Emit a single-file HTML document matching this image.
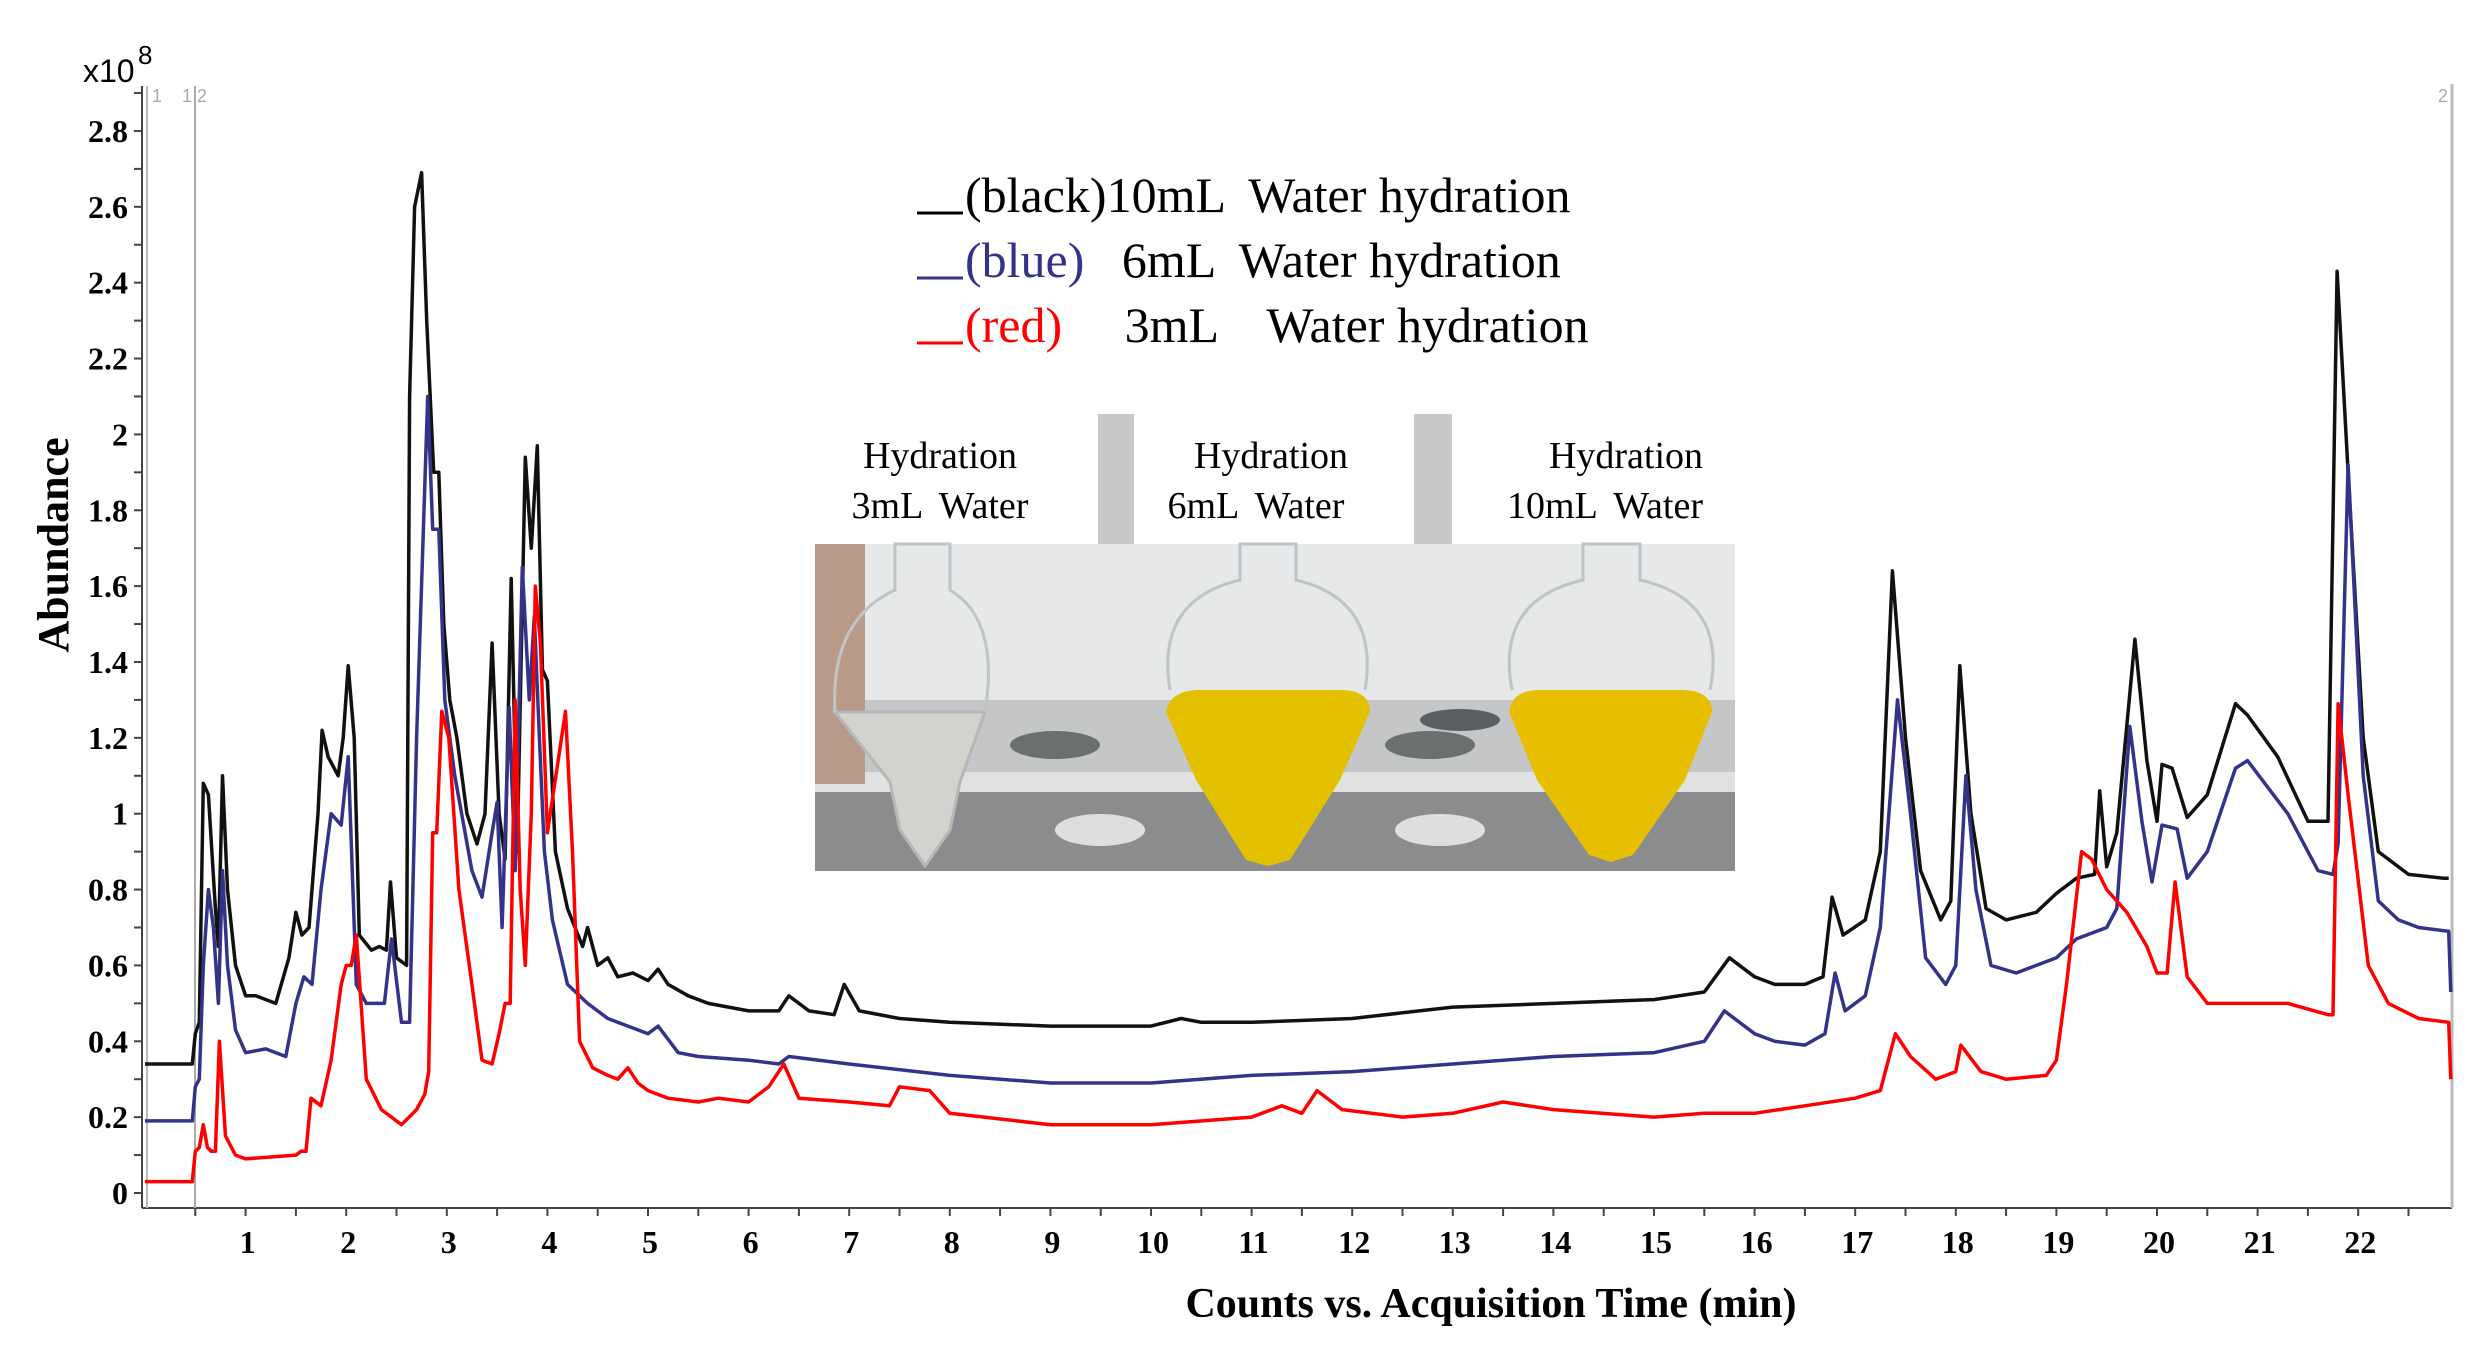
<!DOCTYPE html>
<html><head><meta charset="utf-8">
<style>
html,body{margin:0;padding:0;background:#fff;}
svg{display:block;font-family:"Liberation Serif",serif;}
</style></head>
<body>
<svg id="chart" width="2488" height="1353" viewBox="0 0 2488 1353" xmlns="http://www.w3.org/2000/svg">
<rect width="2488" height="1353" fill="#fff"/>
<g id="axes"></g>
<g id="photo">
  <rect x="815" y="544" width="920" height="327" fill="#e6e8ea"/>
  <rect x="815" y="700" width="920" height="171" fill="#c4c6c7"/>
  <rect x="815" y="790" width="920" height="81" fill="#8a8c8d"/>
  <rect x="815" y="772" width="920" height="20" fill="#e0e2e2"/>
  <ellipse cx="1055" cy="745" rx="45" ry="14" fill="#6c6f70"/>
  <ellipse cx="1430" cy="745" rx="45" ry="14" fill="#6c6f70"/>
  <ellipse cx="1460" cy="720" rx="40" ry="11" fill="#5b5e60"/>
  <ellipse cx="1100" cy="830" rx="45" ry="16" fill="#dcdedf"/>
  <ellipse cx="1440" cy="830" rx="45" ry="16" fill="#dcdedf"/>
  <rect x="815" y="544" width="50" height="240" fill="#b89a88"/>
  <path d="M835 712 L985 712 L960 782 L950 830 L925 866 L900 830 L890 782 Z" fill="#d2d3cf" stroke="#b5b8b6" stroke-width="3"/>
  <path d="M835 712 Q830 620 895 590 L895 544 L950 544 L950 590 Q1000 620 985 712" fill="none" stroke="#c0c4c5" stroke-width="3"/>
  <path d="M1166 712 Q1170 690 1200 690 L1340 690 Q1370 690 1370 712 L1340 780 L1290 860 L1268 866 L1246 860 L1196 780 Z" fill="#e3c000"/>
  <path d="M1170 690 Q1155 600 1240 580 L1240 544 L1296 544 L1296 580 Q1380 600 1365 690" fill="none" stroke="#c0c4c5" stroke-width="3"/>
  <path d="M1509 712 Q1512 690 1540 690 L1680 690 Q1712 690 1712 712 L1685 780 L1633 855 L1611 862 L1589 855 L1537 780 Z" fill="#e8bf00"/>
  <path d="M1512 690 Q1495 600 1583 580 L1583 544 L1640 544 L1640 580 Q1728 600 1710 690" fill="none" stroke="#c0c4c5" stroke-width="3"/>
  <rect x="1098" y="414" width="36" height="130" fill="#c8c9ca"/>
  <rect x="1414" y="414" width="38" height="130" fill="#c8c9ca"/>
  <text x="940" y="468" font-size="38" text-anchor="middle">Hydration</text>
  <text x="940" y="518" font-size="38" text-anchor="middle" word-spacing="8">3mL Water</text>
  <text x="1271" y="468" font-size="38" text-anchor="middle">Hydration</text>
  <text x="1256" y="518" font-size="38" text-anchor="middle" word-spacing="8">6mL Water</text>
  <text x="1703" y="468" font-size="38" text-anchor="end">Hydration</text>
  <text x="1703" y="518" font-size="38" text-anchor="end" word-spacing="8">10mL Water</text>
</g>
<g id="series"></g>
<g id="legend">
  <line x1="917" y1="213" x2="963" y2="213" stroke="#000" stroke-width="3"/>
  <text x="965" y="212" font-size="50" fill="#000" xml:space="preserve">(black)10mL  Water hydration</text>
  <line x1="917" y1="278" x2="963" y2="278" stroke="#33338a" stroke-width="3"/>
  <text x="965" y="277" font-size="50" xml:space="preserve"><tspan fill="#33338a">(blue)</tspan>   6mL  Water hydration</text>
  <line x1="917" y1="343" x2="963" y2="343" stroke="#f00" stroke-width="3"/>
  <text x="965" y="342" font-size="50" xml:space="preserve"><tspan fill="#f00">(red)</tspan>     3mL    Water hydration</text>
</g>
<text x="83" y="82" font-size="32" font-family="Liberation Sans, sans-serif">x10</text>
<text x="138" y="64" font-size="26" font-family="Liberation Sans, sans-serif">8</text>
<text transform="translate(68,545) rotate(-90)" font-size="44" font-weight="bold" text-anchor="middle">Abundance</text>
<text x="1491" y="1317" font-size="42" font-weight="bold" text-anchor="middle">Counts vs. Acquisition Time (min)</text>
</svg>
<script>
const xTicks=[1,2,3,4,5,6,7,8,9,10,11,12,13,14,15,16,17,18,19,20,21,22];
const yTicks=[0,0.2,0.4,0.6,0.8,1,1.2,1.4,1.6,1.8,2,2.2,2.4,2.6,2.8];
const yTickLabels=["0","0.2","0.4","0.6","0.8","1","1.2","1.4","1.6","1.8","2","2.2","2.4","2.6","2.8"];
const blackPoints=[[0,.34],[.47,.34],[.5,.42],[.54,.45],[.58,1.08],[.63,1.05],[.7,.75],[.73,.65],[.77,1.1],[.82,.8],[.9,.6],[1.0,.52],[1.1,.52],[1.3,.5],[1.43,.62],[1.5,.74],[1.56,.68],[1.63,.7],[1.72,1.0],[1.76,1.22],[1.82,1.15],[1.92,1.1],[1.97,1.2],[2.02,1.39],[2.08,1.2],[2.13,.68],[2.25,.64],[2.33,.65],[2.4,.64],[2.44,.82],[2.5,.62],[2.6,.6],[2.63,2.1],[2.68,2.6],[2.75,2.69],[2.8,2.3],[2.87,1.9],[2.92,1.9],[2.97,1.5],[3.03,1.3],[3.1,1.2],[3.2,1.0],[3.3,.92],[3.38,1.0],[3.45,1.45],[3.52,1.0],[3.58,.88],[3.64,1.62],[3.7,.9],[3.78,1.94],[3.84,1.7],[3.9,1.97],[3.95,1.38],[4.0,1.35],[4.08,.9],[4.2,.75],[4.35,.65],[4.4,.7],[4.5,.6],[4.6,.62],[4.7,.57],[4.85,.58],[5.0,.56],[5.1,.59],[5.2,.55],[5.4,.52],[5.6,.5],[6.0,.48],[6.3,.48],[6.4,.52],[6.6,.48],[6.85,.47],[6.95,.55],[7.1,.48],[7.5,.46],[8,.45],[9,.44],[10,.44],[10.3,.46],[10.5,.45],[11,.45],[12,.46],[13,.49],[14,.5],[15,.51],[15.5,.53],[15.75,.62],[16.0,.57],[16.2,.55],[16.5,.55],[16.68,.57],[16.77,.78],[16.88,.68],[17.1,.72],[17.25,.9],[17.37,1.64],[17.5,1.2],[17.65,.85],[17.85,.72],[17.95,.77],[18.04,1.39],[18.15,1.0],[18.3,.75],[18.5,.72],[18.8,.74],[19.0,.79],[19.2,.83],[19.38,.84],[19.43,1.06],[19.5,.86],[19.6,.95],[19.78,1.46],[19.9,1.14],[20.0,.98],[20.05,1.13],[20.15,1.12],[20.3,.99],[20.5,1.05],[20.78,1.29],[20.9,1.26],[21.2,1.15],[21.5,.98],[21.7,.98],[21.79,2.43],[21.9,1.9],[22.05,1.2],[22.2,.9],[22.5,.84],[22.85,.83],[22.9,.83]];
const bluePoints=[[0,.19],[.47,.19],[.5,.28],[.54,.3],[.58,.6],[.63,.8],[.68,.7],[.73,.5],[.77,.85],[.82,.6],[.9,.43],[1.0,.37],[1.2,.38],[1.4,.36],[1.5,.5],[1.58,.57],[1.66,.55],[1.75,.8],[1.85,1.0],[1.95,.97],[2.02,1.15],[2.1,.55],[2.2,.5],[2.38,.5],[2.45,.67],[2.55,.45],[2.63,.45],[2.7,1.2],[2.81,2.1],[2.86,1.75],[2.92,1.75],[2.98,1.3],[3.08,1.1],[3.25,.85],[3.35,.78],[3.45,.95],[3.5,1.03],[3.55,.7],[3.62,1.28],[3.68,.85],[3.75,1.65],[3.82,1.3],[3.87,1.52],[3.92,1.2],[3.97,.9],[4.05,.72],[4.2,.55],[4.4,.5],[4.6,.46],[4.8,.44],[5.0,.42],[5.1,.44],[5.3,.37],[5.5,.36],[6.0,.35],[6.3,.34],[6.4,.36],[7,.34],[8,.31],[9,.29],[10,.29],[11,.31],[12,.32],[13,.34],[14,.36],[15,.37],[15.5,.4],[15.7,.48],[16.0,.42],[16.2,.4],[16.5,.39],[16.7,.42],[16.8,.58],[16.9,.48],[17.1,.52],[17.25,.7],[17.42,1.3],[17.55,1.0],[17.7,.62],[17.9,.55],[18.0,.6],[18.1,1.1],[18.2,.8],[18.35,.6],[18.6,.58],[18.8,.6],[19.0,.62],[19.2,.67],[19.5,.7],[19.6,.75],[19.73,1.23],[19.85,.98],[19.95,.82],[20.05,.97],[20.2,.96],[20.3,.83],[20.5,.9],[20.78,1.12],[20.9,1.14],[21.3,1.0],[21.6,.85],[21.75,.84],[21.8,.92],[21.9,1.92],[22.05,1.1],[22.2,.77],[22.4,.72],[22.6,.7],[22.9,.69],[22.92,.53]];
const redPoints=[[0,.03],[.47,.03],[.5,.11],[.54,.12],[.58,.18],[.62,.12],[.66,.11],[.7,.11],[.74,.4],[.8,.15],[.9,.1],[1.0,.09],[1.5,.1],[1.55,.11],[1.6,.11],[1.65,.25],[1.75,.23],[1.85,.35],[1.95,.55],[2.0,.6],[2.05,.6],[2.1,.68],[2.2,.3],[2.35,.22],[2.55,.18],[2.7,.22],[2.78,.26],[2.82,.32],[2.86,.95],[2.9,.95],[2.95,1.27],[3.02,1.2],[3.12,.8],[3.25,.55],[3.35,.35],[3.45,.34],[3.52,.42],[3.58,.5],[3.63,.5],[3.68,1.3],[3.73,.8],[3.78,.6],[3.84,1.0],[3.88,1.6],[3.93,1.45],[4.0,.95],[4.18,1.27],[4.25,.9],[4.32,.4],[4.45,.33],[4.6,.31],[4.7,.3],[4.8,.33],[4.9,.29],[5.0,.27],[5.2,.25],[5.5,.24],[5.7,.25],[6.0,.24],[6.2,.28],[6.35,.34],[6.5,.25],[7.0,.24],[7.4,.23],[7.5,.28],[7.8,.27],[8.0,.21],[9,.18],[10,.18],[11,.2],[11.3,.23],[11.5,.21],[11.65,.27],[11.9,.22],[12.5,.2],[13,.21],[13.5,.24],[14,.22],[15,.2],[15.5,.21],[16,.21],[16.5,.23],[17,.25],[17.25,.27],[17.4,.42],[17.55,.36],[17.8,.3],[18.0,.32],[18.05,.39],[18.25,.32],[18.5,.3],[18.9,.31],[19.0,.35],[19.1,.55],[19.25,.9],[19.35,.88],[19.5,.8],[19.7,.74],[19.9,.65],[20.0,.58],[20.1,.58],[20.18,.82],[20.3,.57],[20.5,.5],[21.3,.5],[21.7,.47],[21.75,.47],[21.8,1.29],[21.9,1.05],[22.1,.6],[22.3,.5],[22.6,.46],[22.9,.45],[22.92,.3]];

const X0=142, XPM=100.6, Y0=1193, YPU=379.3, AXB=1208;
const xs=t=>X0+3+XPM*t, ys=v=>Y0-YPU*v;
const NS="http://www.w3.org/2000/svg";
function mk(tag,attrs,parent){const e=document.createElementNS(NS,tag);for(const k in attrs)e.setAttribute(k,attrs[k]);parent.appendChild(e);return e;}
const ax=document.getElementById('axes');
const yl=mk('line',{x1:X0,y1:86,x2:X0,y2:AXB,stroke:'#444','stroke-width':2},ax);


const xl=mk('line',{x1:X0,y1:AXB,x2:2452,y2:AXB,stroke:'#444','stroke-width':2},ax);


mk('line',{x1:2452,y1:84,x2:2452,y2:AXB,stroke:'#bbb','stroke-width':3},ax);
mk('line',{x1:147,y1:86,x2:147,y2:AXB,stroke:'#bbb','stroke-width':2},ax);
mk('line',{x1:195,y1:86,x2:195,y2:AXB,stroke:'#aaa','stroke-width':2},ax);
const m1=mk('text',{x:152,y:102,'font-size':18,fill:'#aaa','font-family':'Liberation Sans, sans-serif'},ax);m1.textContent='1';
const m2=mk('text',{x:182,y:102,'font-size':18,fill:'#aaa','font-family':'Liberation Sans, sans-serif'},ax);m2.textContent='1 2';
const m3=mk('text',{x:2438,y:102,'font-size':18,fill:'#aaa','font-family':'Liberation Sans, sans-serif'},ax);m3.textContent='2';
for(let v=0;v<=2.9001;v+=0.1){mk('line',{x1:X0-8,y1:ys(v),x2:X0,y2:ys(v),stroke:'#444','stroke-width':2},ax);}
yTicks.forEach((v,i)=>{const t=mk('text',{x:128,y:ys(v)+11,'font-size':32,'font-weight':'bold','text-anchor':'end'},ax);t.textContent=yTickLabels[i];

});
for(let t=0.5;t<=22.95;t+=0.5){mk('line',{x1:xs(t),y1:AXB,x2:xs(t),y2:AXB+8,stroke:'#444','stroke-width':2},ax);}
xTicks.forEach(v=>{const t=mk('text',{x:xs(v)+2,y:1253,'font-size':32,'font-weight':'bold','text-anchor':'middle'},ax);t.textContent=String(v);

});
const sg=document.getElementById('series');
function draw(P,col,name){const d=P.map((p,i)=>(i?'L':'M')+xs(p[0]).toFixed(1)+' '+ys(p[1]).toFixed(1)).join(' ');
const p=mk('path',{d:d,fill:'none',stroke:col,'stroke-width':3.5,'stroke-linejoin':'round'},sg);

}
draw(blackPoints,'#111','series-black-10ml');
draw(bluePoints,'#33338a','series-blue-6ml');
draw(redPoints,'#ff0000','series-red-3ml');
</script>
</body></html>
